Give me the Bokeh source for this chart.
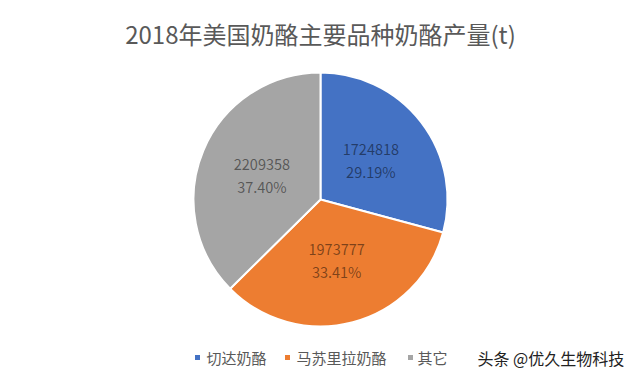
import numpy as np
from bokeh.plotting import figure
from bokeh.models import ColumnDataSource, Range1d
from bokeh.core.properties import value
from bokeh.embed import file_html
from bokeh.resources import INLINE

title_text = "2018年美国奶酪主要品种奶酪产量(t)"
categories = ["切达奶酪", "马苏里拉奶酪", "其它"]
values = [1724818, 1973777, 2209358]
percents = ["29.19%", "33.41%", "37.40%"]
colors = ["#4472C4", "#ED7D31", "#A5A5A5"]
watermark = "头条 @优久生物科技"

FONT = "Noto Sans CJK SC"
W, H = 624, 369
CX, CY, R = 320, 170, 127

p = figure(width=W, height=H, output_backend="svg", toolbar_location=None,
           x_range=Range1d(0, W), y_range=Range1d(0, H), min_border=0)
p.axis.visible = False
p.grid.visible = False
p.outline_line_color = None
p.background_fill_color = "white"
p.border_fill_color = "white"

vals = np.array(values, dtype=float)
frac = vals / vals.sum()
cum = np.concatenate([[0], np.cumsum(frac)])
start = np.pi / 2 - 2 * np.pi * cum[:-1]
end = np.pi / 2 - 2 * np.pi * cum[1:]
mid = (start + end) / 2

src = ColumnDataSource(dict(x=[CX] * 3, y=[CY] * 3, start=start, end=end,
                            color=colors, cat=categories))
p.wedge(x="x", y="y", radius=R, radius_units="screen", start_angle="start",
        end_angle="end", direction="clock", fill_color="color",
        line_color="white", line_width=2, source=src)

rl = 0.5 * R
lx = CX + rl * np.cos(mid)
ly = CY + rl * np.sin(mid)
lab = ColumnDataSource(dict(x=lx, y1=ly + 11, y2=ly - 11,
                            v=[str(v) for v in values], pc=percents))
p.text(x="x", y="y1", text="v", source=lab, text_align="center",
       text_baseline="middle", text_font=value(FONT), text_font_size="14.5px",
       text_color="black", text_alpha=0.48)
p.text(x="x", y="y2", text="pc", source=lab, text_align="center",
       text_baseline="middle", text_font=value(FONT), text_font_size="14.5px",
       text_color="black", text_alpha=0.48)

# title
p.text(x=[CX], y=[336], text=[title_text], text_align="center",
       text_baseline="middle", text_font=value(FONT), text_font_size="24px",
       text_color="#595959")

# legend
leg_mx = [197, 287, 410]
leg_tx = [206, 296, 417]
LY = 12
leg = ColumnDataSource(dict(mx=leg_mx, tx=leg_tx, y=[LY] * 3,
                            color=colors, cat=categories))
p.scatter(x="mx", y="y", marker="square", size=5, fill_color="color",
          line_color=None, source=leg)
p.text(x="tx", y="y", text="cat", source=leg, text_align="left",
       text_baseline="middle", text_font=value(FONT), text_font_size="15px",
       text_color="#595959")

# watermark
p.text(x=[477], y=[LY], text=[watermark], text_align="left",
       text_baseline="middle", text_font=value(FONT), text_font_size="16px",
       text_color="#222222")

open("out.html", "w").write(file_html(p, INLINE))
